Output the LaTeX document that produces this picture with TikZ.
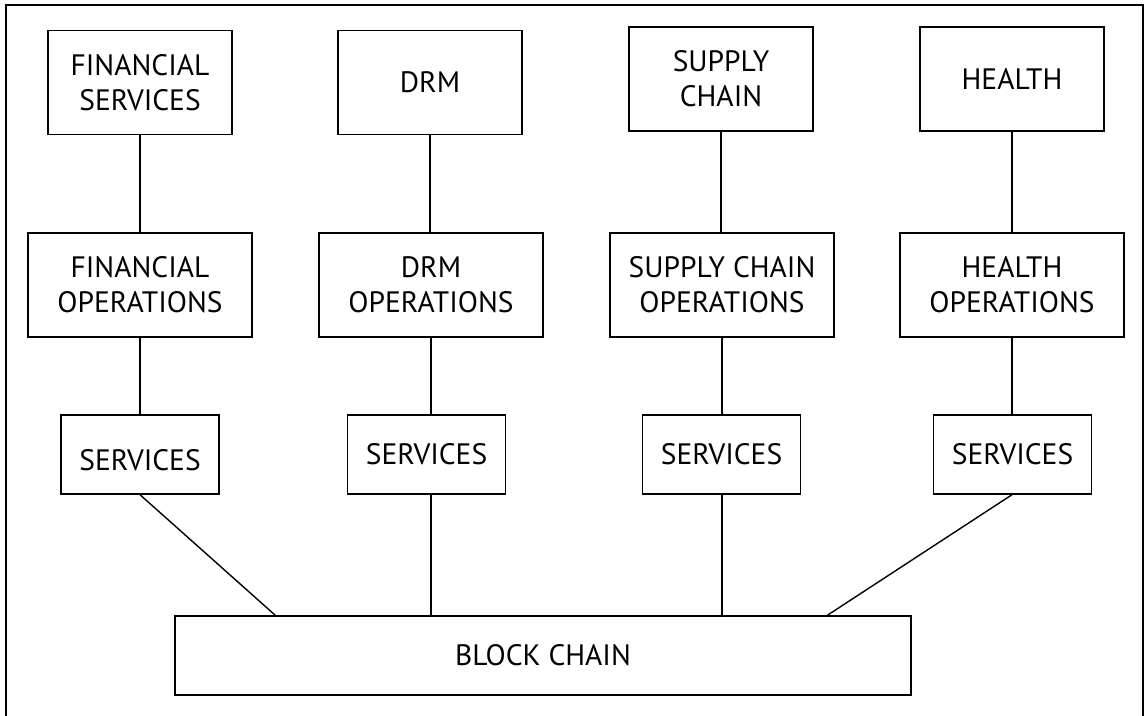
\documentclass[tikz,border=0pt]{standalone}
\usepackage{fontspec}
\setmainfont{PT Sans}
\usetikzlibrary{calc}
\begin{document}
\begin{tikzpicture}[x=1pt,y=-1pt,
  box/.style={draw, line width=1.4pt, align=center, inner sep=0pt,
    font=\fontsize{29.5}{35}\selectfont},
  top/.style={box, minimum width=184pt, minimum height=104pt},
  ops/.style={box, minimum width=224pt, minimum height=104pt},
  srv/.style={box, minimum width=158pt, minimum height=79pt},
  link/.style={line width=1.4pt}]
\useasboundingbox (0,0) rectangle (1145,715);
\draw[line width=2.6pt] (6,716) -- (6,5) -- (1143,5) -- (1143,716);
% top row
\node[top] (fs) at (140,82.5) {FINANCIAL\\SERVICES};
\node[top] (drm) at (430,82.5) {DRM};
\node[top] (sc) at (721,79) {SUPPLY\\CHAIN};
\node[top] (hl) at (1012,79) {HEALTH};
% operations row
\node[ops] (fo) at (140,285) {FINANCIAL\\OPERATIONS};
\node[ops] (do) at (431,285) {DRM\\OPERATIONS};
\node[ops] (so) at (722,285) {SUPPLY CHAIN\\OPERATIONS};
\node[ops] (ho) at (1012,285) {HEALTH\\OPERATIONS};
% services row
\node[srv] (s1) at (140,454.5) {\raisebox{-6pt}[\height][\depth]{SERVICES}};
\node[srv] (s2) at (426.5,454.5) {SERVICES};
\node[srv] (s3) at (721.5,454.5) {SERVICES};
\node[srv] (s4) at (1012.5,454.5) {SERVICES};
% block chain
\node[box, minimum width=736pt, minimum height=79pt] (bc) at (543,655.5) {BLOCK CHAIN};
\coordinate (b1) at ($(bc.north west)+(101,0)$);
\coordinate (b4) at ($(bc.north west)+(653,0)$);
% connectors
\draw[link] (fs.south) -- (fs.south |- fo.north);
\draw[link] (drm.south) -- (drm.south |- do.north);
\draw[link] (sc.south) -- (sc.south |- so.north);
\draw[link] (hl.south) -- (hl.south |- ho.north);
\draw[link] (fo.south) -- (fo.south |- s1.north);
\draw[link] (do.south) -- (do.south |- s2.north);
\draw[link] (so.south) -- (so.south |- s3.north);
\draw[link] (ho.south) -- (ho.south |- s4.north);
\draw[link] (s1.south -| fo.south) -- (b1);
\draw[link] (s2.south -| do.south) -- (do.south |- bc.north);
\draw[link] (s3.south -| so.south) -- (so.south |- bc.north);
\draw[link] (s4.south -| ho.south) -- (b4);
\end{tikzpicture}
\end{document}
